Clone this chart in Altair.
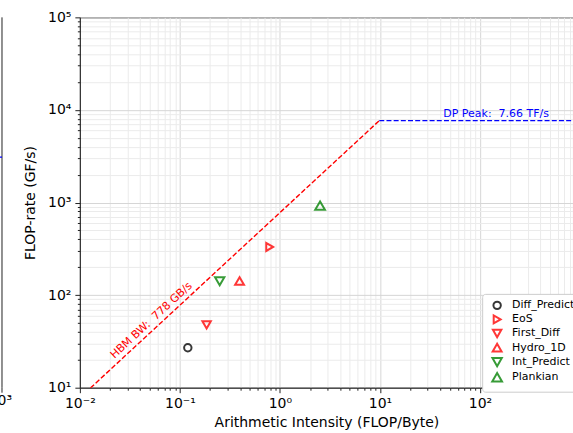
import altair as alt
import pandas as pd

# Kernel measurements: arithmetic intensity (FLOP/Byte) and achieved rate (GF/s)
kernels = ["Diff_Predict", "EoS", "First_Diff", "Hydro_1D", "Int_Predict", "Plankian"]
intensity = [0.12, 0.79, 0.185, 0.395, 0.25, 2.52]
flop_rate = [27, 331, 47.7, 142, 141, 925]
kernel_shapes = ["circle", "triangle-right", "triangle-down", "triangle-up", "triangle-down", "triangle-up"]
kernel_colors = ["black", "red", "red", "red", "green", "green"]
kernel_sizes = [55, 95, 95, 95, 95, 95]

# Machine ceilings
hbm_bw = 778      # GB/s
dp_peak = 7660    # GF/s
NBSP = "\u00a0"
hbm_label = "HBM BW:" + NBSP + NBSP + "778 GB/s"
peak_label = "DP Peak:" + NBSP + NBSP + "7.66 TF/s"

# Axis ticks
x_major = [0.01, 0.1, 1, 10, 100]
x_major_labels = ["10⁻²", "10⁻¹", "10⁰", "10¹", "10²"]
y_major = [10, 100, 1000, 10000, 100000]
y_major_labels = ["10¹", "10²", "10³", "10⁴", "10⁵"]
x_min, x_max = 0.01, 851
y_min, y_max = 10, 100000

W, H = 494, 371
FONT = "DejaVu Sans"


def minor_ticks(majors):
    return [m * v for v in majors for m in range(2, 10)]


is_major = "abs(log(datum.value)/LN10 - round(log(datum.value)/LN10)) < 0.001"


def log_axis(majors, labels, lo_exp, title, orient):
    lab = "[" + ",".join("'%s'" % s for s in labels) + "]"
    return alt.Axis(
        title=title,
        orient=orient,
        values=majors + minor_ticks(majors),
        labelExpr="(%s) ? %s[round(log(datum.value)/LN10) - (%d)] : ''" % (is_major, lab, lo_exp),
        tickSize={"condition": {"test": is_major, "value": 5}, "value": 2.5},
        gridColor={"condition": {"test": is_major, "value": "#d6d6d6"}, "value": "#ebebeb"},
        gridWidth=1,
        labelOverlap=False,
        labelFlush=False,
        labelPadding=4,
    )


x_scale = alt.Scale(type="log", domain=[x_min, x_max], nice=False)
y_scale = alt.Scale(type="log", domain=[y_min, y_max], nice=False)
x_enc = alt.X("ai:Q", scale=x_scale,
              axis=log_axis(x_major, x_major_labels, -2, "Arithmetic Intensity (FLOP/Byte)", "bottom"))
y_enc = alt.Y("gf:Q", scale=y_scale,
              axis=log_axis(y_major, y_major_labels, 1, "FLOP-rate (GF/s)", "left"))

knee = dp_peak / hbm_bw

bw_df = pd.DataFrame({"ai": [x_min, knee], "gf": [hbm_bw * x_min, dp_peak]})
peak_df = pd.DataFrame({"ai": [knee, 1000], "gf": [dp_peak, dp_peak]})

bw_line = alt.Chart(bw_df).mark_line(
    color="red", strokeDash=[5, 2.2], strokeWidth=1.4, clip=True
).encode(x=x_enc, y=y_enc)

peak_line = alt.Chart(peak_df).mark_line(
    color="blue", strokeDash=[5, 2.2], strokeWidth=1.4, clip=True
).encode(x=x_enc, y=y_enc)

pts_df = pd.DataFrame({"kernel": kernels, "ai": intensity, "gf": flop_rate})

points = alt.Chart(pts_df).mark_point(
    filled=False, strokeWidth=2, opacity=0.78
).encode(
    x=x_enc,
    y=y_enc,
    shape=alt.Shape("kernel:N", scale=alt.Scale(domain=kernels, range=kernel_shapes), legend=None),
    color=alt.Color("kernel:N", scale=alt.Scale(domain=kernels, range=kernel_colors),
                    legend=alt.Legend(
                        title=None, orient="none", legendX=403, legendY=277,
                        fillColor="white", strokeColor="#cccccc", cornerRadius=3,
                        padding=6, labelFont=FONT, labelFontSize=11, labelColor="black",
                        symbolStrokeWidth=2, symbolOpacity=0.78, symbolSize=80,
                        rowPadding=-2.9, labelOffset=9, symbolOffset=3,
                    )),
    size=alt.Size("kernel:N", scale=alt.Scale(domain=kernels, range=kernel_sizes), legend=None),
)

hbm_x = 0.059
hbm_text = alt.Chart(pd.DataFrame({"ai": [hbm_x], "gf": [hbm_bw * hbm_x], "t": [hbm_label]})).mark_text(
    color="red", font=FONT, fontSize=11, angle=317.2, align="center", baseline="middle", dy=-8
).encode(x=x_enc, y=y_enc, text="t:N")

peak_text = alt.Chart(pd.DataFrame({"ai": [145], "gf": [dp_peak], "t": [peak_label]})).mark_text(
    color="blue", font=FONT, fontSize=11, align="center", baseline="alphabetic", dy=-4
).encode(x=x_enc, y=y_enc, text="t:N")

# 10^3 label at the right end of the x axis, partly past the edge of the figure
edge_label = alt.Chart(pd.DataFrame({"ai": [1000], "t": ["10³"]})).mark_text(
    font=FONT, fontSize=14, color="black", align="center", baseline="top", dx=5, clip=False
).encode(x=alt.X("ai:Q", scale=x_scale), y=alt.value(H + 10), text="t:N")

# Right edge of the neighbouring panel on the left
one = pd.DataFrame({"v": [0]})
nb_spine = alt.Chart(one).mark_rule(color="#222222", strokeWidth=1).encode(
    x=alt.value(-78), y=alt.value(0), y2=alt.value(H))
nb_tick = alt.Chart(one).mark_rule(color="#222222", strokeWidth=1).encode(
    x=alt.value(-78), y=alt.value(H), y2=alt.value(H + 5))
nb_peak = alt.Chart(one).mark_rule(color="blue", strokeWidth=1.4).encode(
    x=alt.value(-82), x2=alt.value(-78), y=alt.value(140))
nb_label = alt.Chart(pd.DataFrame({"t": ["10³"]})).mark_text(
    font=FONT, fontSize=14, color="black", align="right", baseline="top"
).encode(x=alt.value(-68), y=alt.value(H + 6), text="t:N")

chart = alt.layer(
    bw_line, peak_line, points, hbm_text, peak_text, edge_label,
    nb_spine, nb_tick, nb_peak, nb_label
).properties(
    width=W, height=H,
    padding={"left": 80, "top": 17, "right": 0, "bottom": 45},
    autosize=alt.AutoSizeParams(type="none"),
).configure_view(
    stroke="#222222", strokeWidth=1
).configure_axis(
    labelFont=FONT, titleFont=FONT, labelFontSize=14, titleFontSize=14,
    titleFontWeight="normal", labelColor="black", titleColor="black",
    domainColor="#222222", tickColor="#222222", domainWidth=1, tickWidth=1,
).configure_axisX(titlePadding=5).configure_axisY(titlePadding=10)

chart.save("out.html", embed_options={"renderer": "svg", "actions": False})
